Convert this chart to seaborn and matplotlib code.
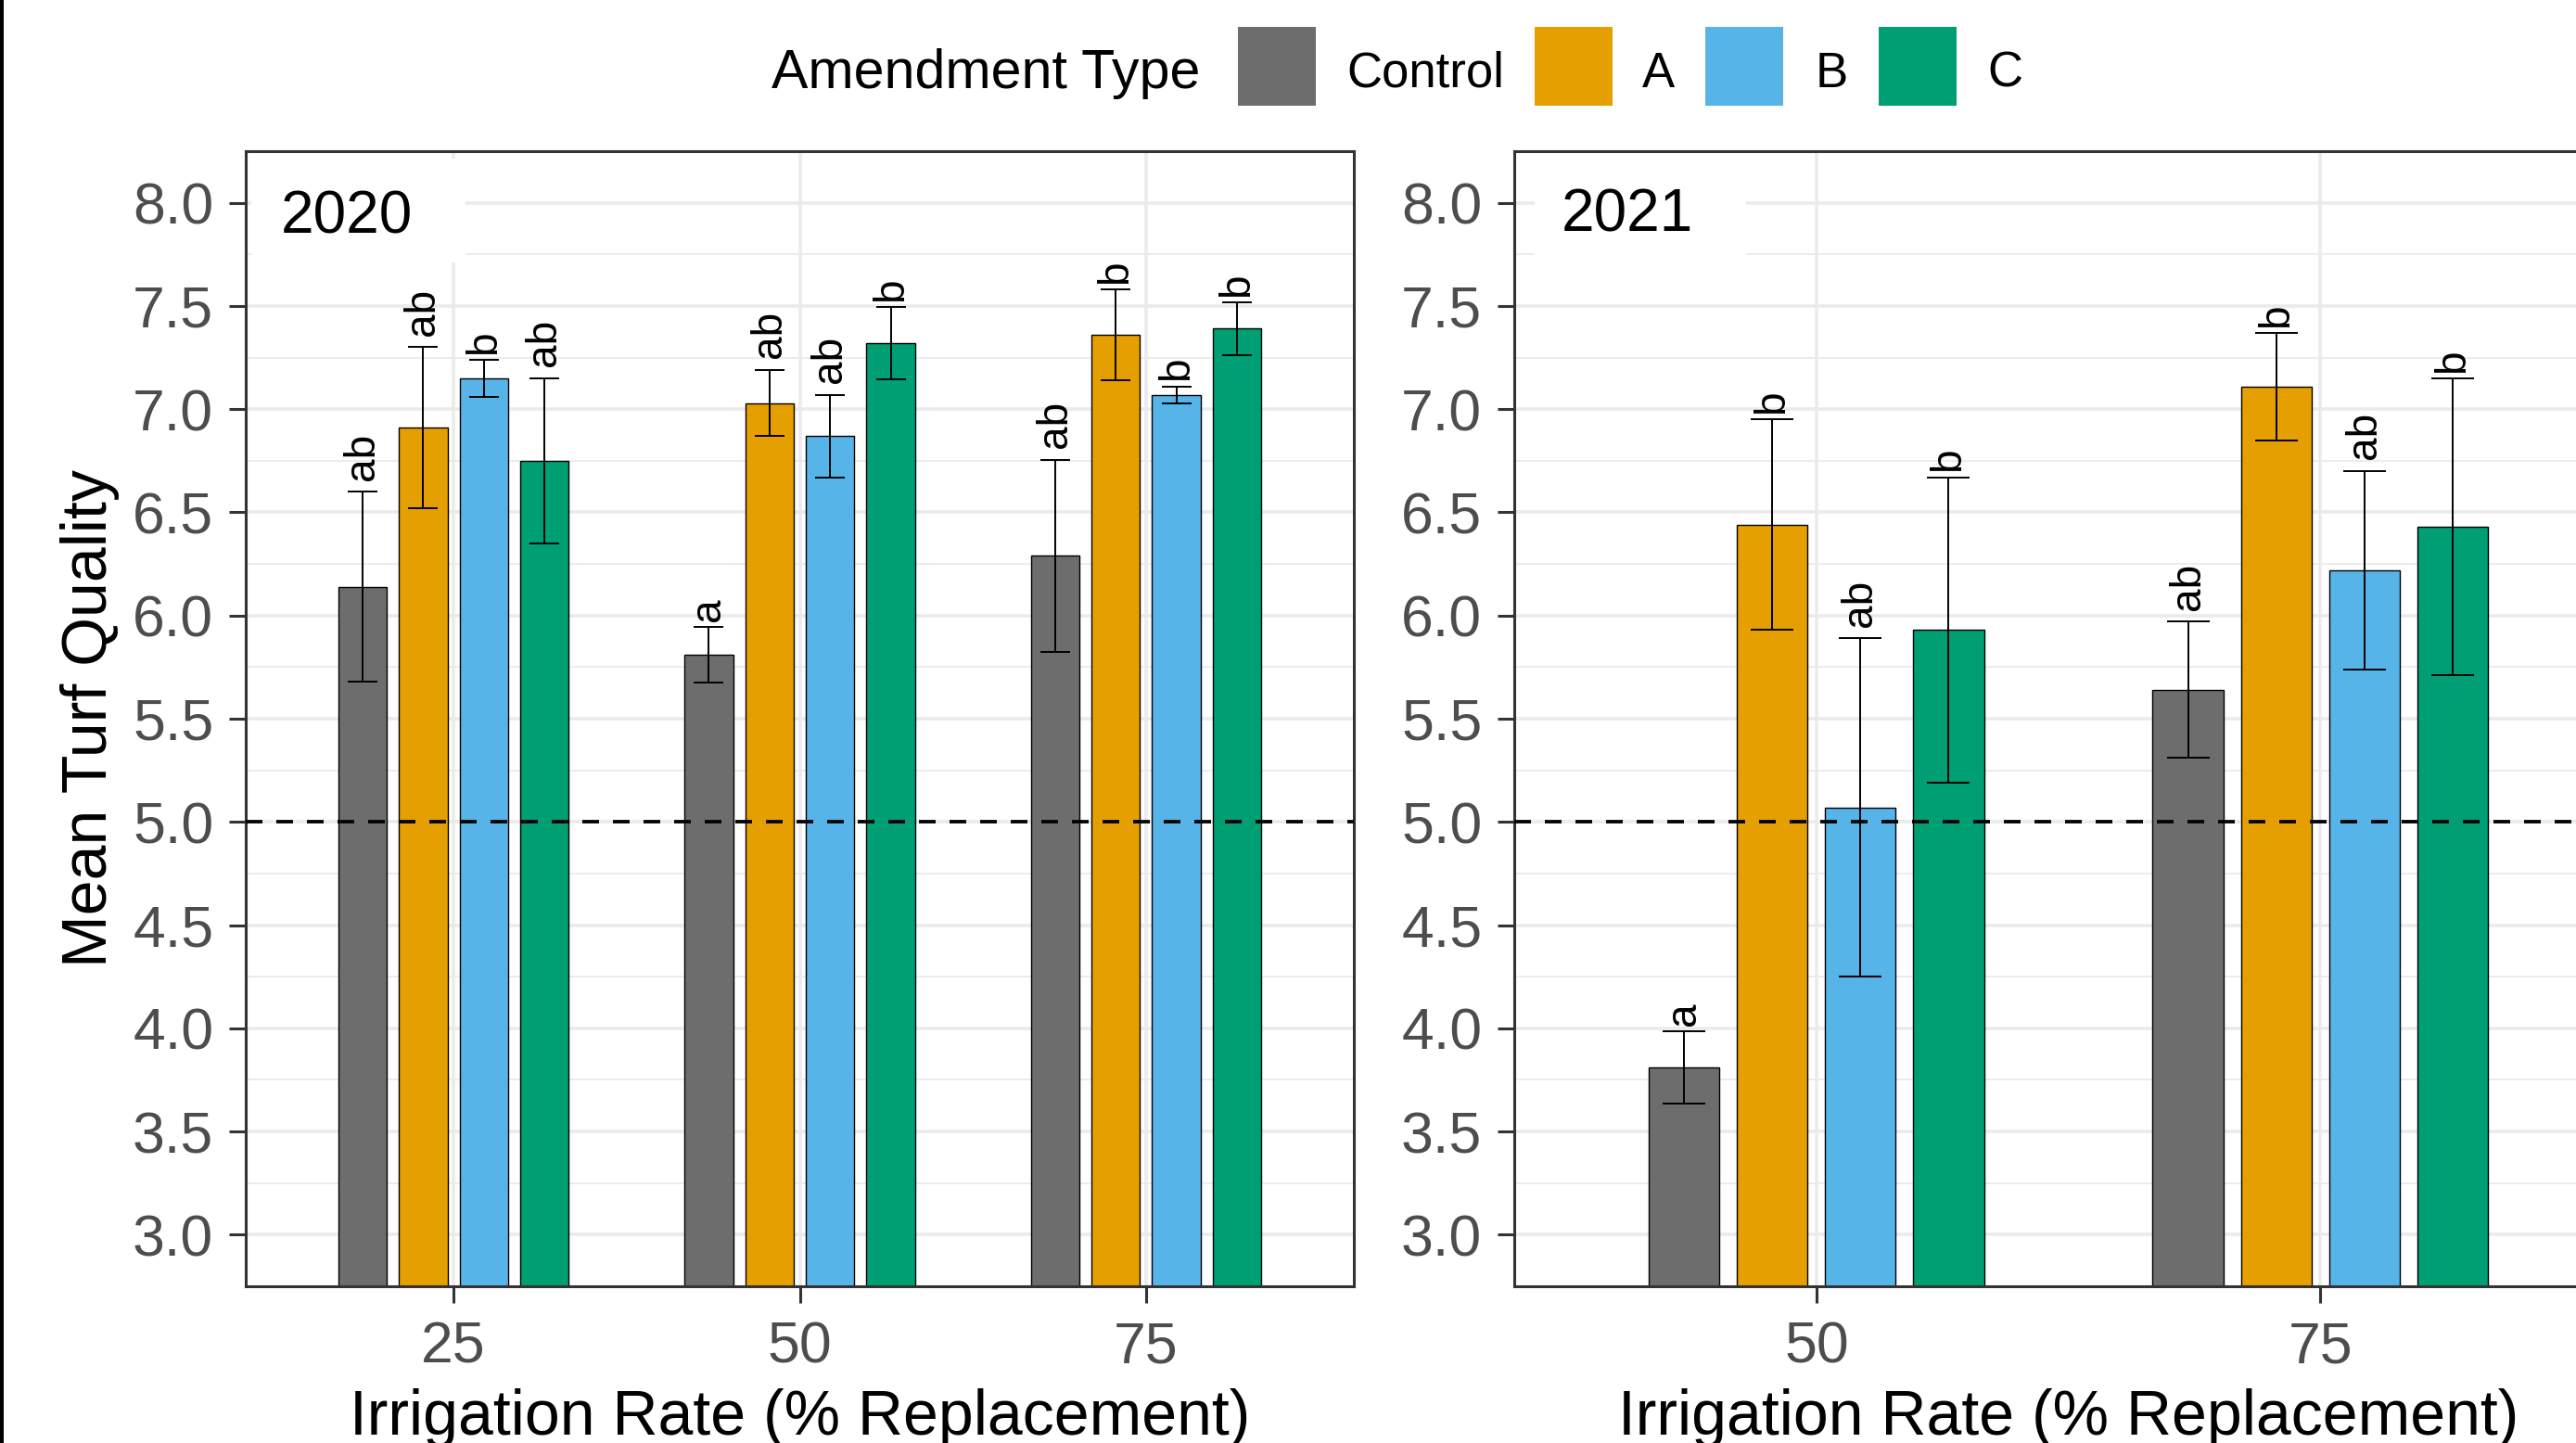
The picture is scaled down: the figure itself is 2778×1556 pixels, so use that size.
import matplotlib
matplotlib.use("Agg")
import matplotlib.pyplot as plt
from matplotlib.patches import Rectangle
from matplotlib.ticker import MultipleLocator, FormatStrFormatter
import pandas as pd
import seaborn as sns

# ---- data -------------------------------------------------------------
amendments = ["Control", "A", "B", "C"]
amendment_colors = ["#6D6D6D", "#E69F00", "#56B4E9", "#009E73"]

rates_2020 = ["25", "50", "75"]
mean_2020 = {"Control": [6.14, 5.81, 6.29],
             "A":       [6.91, 7.03, 7.36],
             "B":       [7.15, 6.87, 7.07],
             "C":       [6.75, 7.32, 7.39]}
se_2020 = {"Control": [0.46, 0.135, 0.465],
           "A":       [0.39, 0.16, 0.22],
           "B":       [0.09, 0.20, 0.04],
           "C":       [0.40, 0.175, 0.127]}
letters_2020 = {"Control": ["ab", "a", "ab"],
                "A":       ["ab", "ab", "b"],
                "B":       ["b", "ab", "b"],
                "C":       ["ab", "b", "b"]}

rates_2021 = ["50", "75"]
mean_2021 = {"Control": [3.81, 5.64],
             "A":       [6.44, 7.11],
             "B":       [5.07, 6.22],
             "C":       [5.93, 6.43]}
se_2021 = {"Control": [0.175, 0.33],
           "A":       [0.51, 0.26],
           "B":       [0.82, 0.48],
           "C":       [0.74, 0.72]}
letters_2021 = {"Control": ["a", "ab"],
                "A":       ["b", "b"],
                "B":       ["ab", "ab"],
                "C":       ["b", "b"]}

threshold = 5.0
y_limits = (2.75, 8.25)

# ---- style ------------------------------------------------------------
sns.set_theme(style="white")
plt.rcParams["font.family"] = ["Liberation Sans", "DejaVu Sans"]

DARK = "#333333"
GRID = "#EBEBEB"
TICK_TXT = "#4D4D4D"

W, H = 2778, 1556
fig = plt.figure(figsize=(W / 100, H / 100), dpi=100)
fig.patch.set_facecolor("white")

panel_w = 1195 / W
panel_h = 1224 / H
panel_y0 = 1 - 1387 / H
ax_left = fig.add_axes([265 / W, panel_y0, panel_w, panel_h])
ax_right = fig.add_axes([1633 / W, panel_y0, panel_w, panel_h])


def draw_panel(ax, year, rates, means, ses, letters, box_x, text_x, text_y):
    rows = []
    for amend in amendments:
        for i, r in enumerate(rates):
            rows.append({"rate": r, "amendment": amend,
                         "mean": means[amend][i], "se": ses[amend][i],
                         "letter": letters[amend][i]})
    df = pd.DataFrame(rows)

    sns.barplot(data=df, x="rate", y="mean", hue="amendment",
                order=rates, hue_order=amendments, palette=amendment_colors,
                saturation=1, width=0.7, gap=0.2, errorbar=None,
                edgecolor="black", linewidth=1.0, legend=False, ax=ax,
                zorder=2)

    ax.set_xlim(-0.6, len(rates) - 0.4)
    ax.set_ylim(*y_limits)

    # px per x unit -> cap half-width of 0.042 units in points
    px_per_unit = 1195 / (len(rates) + 0.2)
    cap_pt = 0.042 * px_per_unit * 0.72

    for container, amend in zip(ax.containers, amendments):
        sub = df[df["amendment"] == amend].set_index("rate")
        for bar in container:
            cx = bar.get_x() + bar.get_width() / 2
            idx = int(round(cx))
            rate = rates[idx]
            top = bar.get_height()
            se = sub.loc[rate, "se"]
            ax.errorbar(cx, top, yerr=se, fmt="none", ecolor="black",
                        elinewidth=1.4, capsize=cap_pt, capthick=1.4,
                        zorder=3)
            lab = sub.loc[rate, "letter"]
            ax.annotate(lab, (cx, top + se), xytext=(0, 4.5 * len(lab)),
                        textcoords="offset points", rotation=90,
                        ha="center", va="bottom", fontsize=33,
                        color="black", zorder=4)

    ax.axhline(threshold, color="black", lw=2.7, dashes=(4.8, 4.0), zorder=5)

    # grid
    ax.yaxis.set_major_locator(MultipleLocator(0.5))
    ax.yaxis.set_minor_locator(MultipleLocator(0.25))
    ax.yaxis.set_major_formatter(FormatStrFormatter("%.1f"))
    ax.set_axisbelow(True)
    ax.grid(which="major", axis="both", color=GRID, lw=2.6)
    ax.grid(which="minor", axis="y", color=GRID, lw=1.3)

    for s in ax.spines.values():
        s.set_visible(True)
        s.set_color(DARK)
        s.set_linewidth(2.2)

    ax.tick_params(which="major", length=13, width=2.2, color=DARK,
                   labelsize=45, labelcolor=TICK_TXT, left=True, bottom=True)
    ax.tick_params(axis="y", which="major", pad=12)
    ax.tick_params(axis="x", which="major", pad=13)
    ax.tick_params(which="minor", length=0)

    ax.set_xlabel("Irrigation Rate (% Replacement)", fontsize=49,
                  color="black", labelpad=11)
    ax.set_ylabel("")

    # year tag in the upper-left corner on a white patch
    ax.add_patch(Rectangle((box_x[0], 0.902), box_x[1] - box_x[0],
                           0.9935 - 0.902, transform=ax.transAxes,
                           facecolor="white", edgecolor="none", zorder=1))
    ax.text(text_x, text_y, year, transform=ax.transAxes, fontsize=46,
            color="black", ha="left", va="baseline", zorder=6)


draw_panel(ax_left, "2020", rates_2020, mean_2020, se_2020, letters_2020,
           (0.0053, 0.1987), 0.032, 0.9273)
draw_panel(ax_right, "2021", rates_2021, mean_2021, se_2021, letters_2021,
           (0.0184, 0.2092), 0.0425, 0.929)

ax_left.set_ylabel("Mean Turf Quality", fontsize=49, color="black",
                   labelpad=10)

# ---- legend across the top -------------------------------------------
fig.text(832 / W, 1 - 95 / H, "Amendment Type", fontsize=42.6,
         color="black", ha="left", va="baseline")
key_x = [1334.5, 1655, 1839, 2026]
label_x = [1452, 1771, 1958, 2143]
for kx, lx, name, col in zip(key_x, label_x, amendments, amendment_colors):
    fig.patches.append(Rectangle((kx / W, 1 - 114 / H), 84 / W, 85 / H,
                                 transform=fig.transFigure, facecolor=col,
                                 edgecolor="none"))
    fig.text(lx / W, 1 - 93.5 / H, name, fontsize=38, color="black",
             ha="left", va="baseline")

# dark rule along the left edge
fig.patches.append(Rectangle((0, 0), 4 / W, 1, transform=fig.transFigure,
                             facecolor="black", edgecolor="none"))

fig.savefig("out.png", dpi=100)
